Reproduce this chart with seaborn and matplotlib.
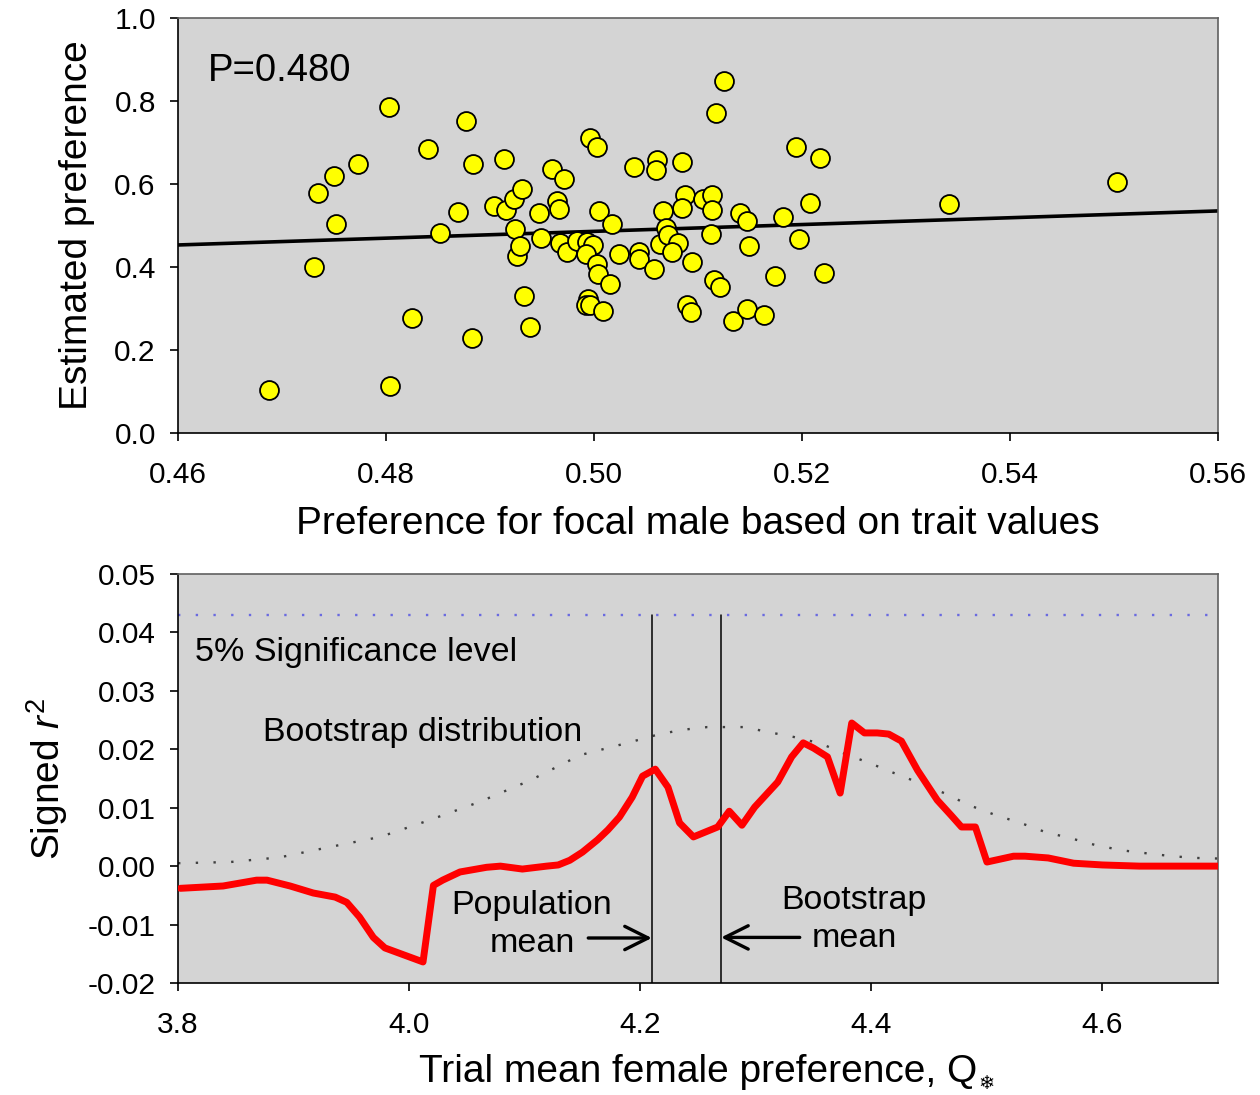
import numpy as np
import pandas as pd
import matplotlib
matplotlib.use("Agg")
import matplotlib.pyplot as plt
import seaborn as sns

# ---- top panel: estimated vs. trait-based preference ----
trait_pref = [0.4687, 0.4731, 0.4735, 0.4750, 0.4752, 0.4773, 0.4803, 0.4804, 0.4825, 0.4840,
              0.4852, 0.4869, 0.4877, 0.4883, 0.4884, 0.4904, 0.4913, 0.4915, 0.4923, 0.4924,
              0.4926, 0.4929, 0.4931, 0.4933, 0.4938, 0.4947, 0.4949, 0.4960, 0.4971, 0.4964,
              0.4966, 0.4967, 0.4974, 0.4984, 0.4993, 0.4999, 0.4992, 0.4996, 0.5003, 0.4994,
              0.4992, 0.4996, 0.5009, 0.5005, 0.5003, 0.5004, 0.5015, 0.5017, 0.5024, 0.5038,
              0.5043, 0.5043, 0.5058, 0.5061, 0.5060, 0.5063, 0.5066, 0.5069, 0.5071, 0.5081,
              0.5075, 0.5085, 0.5087, 0.5085, 0.5094, 0.5089, 0.5093, 0.5105, 0.5113, 0.5113,
              0.5112, 0.5115, 0.5121, 0.5117, 0.5125, 0.5134, 0.5140, 0.5147, 0.5149, 0.5147,
              0.5163, 0.5174, 0.5182, 0.5194, 0.5197, 0.5208, 0.5217, 0.5221, 0.5341, 0.5503]
estimated_pref = [0.104, 0.400, 0.578, 0.619, 0.504, 0.648, 0.786, 0.113, 0.277, 0.684,
                  0.482, 0.533, 0.752, 0.229, 0.648, 0.547, 0.660, 0.537, 0.564, 0.492,
                  0.427, 0.451, 0.588, 0.330, 0.255, 0.530, 0.470, 0.636, 0.612, 0.559,
                  0.540, 0.458, 0.436, 0.463, 0.460, 0.453, 0.431, 0.711, 0.689, 0.323,
                  0.308, 0.308, 0.294, 0.535, 0.407, 0.383, 0.359, 0.504, 0.431, 0.641,
                  0.436, 0.419, 0.395, 0.658, 0.634, 0.455, 0.535, 0.494, 0.477, 0.458,
                  0.436, 0.653, 0.573, 0.542, 0.412, 0.308, 0.292, 0.564, 0.573, 0.537,
                  0.480, 0.369, 0.352, 0.771, 0.848, 0.270, 0.530, 0.511, 0.451, 0.299,
                  0.284, 0.378, 0.520, 0.689, 0.467, 0.554, 0.663, 0.386, 0.552, 0.605]
fit_x = [0.46, 0.56]
fit_y = [0.453, 0.535]
p_label = "P=0.480"

# ---- bottom panel: signed r^2 across trial mean preference ----
trial_mean = [3.802, 3.839, 3.868, 3.877, 3.897, 3.917, 3.936, 3.946, 3.957, 3.969,
              3.979, 4.012, 4.021, 4.029, 4.044, 4.067, 4.079, 4.098, 4.119, 4.129,
              4.139, 4.150, 4.163, 4.172, 4.182, 4.193, 4.202, 4.213, 4.224, 4.234,
              4.246, 4.267, 4.277, 4.288, 4.299, 4.319, 4.331, 4.341, 4.350, 4.362,
              4.373, 4.383, 4.394, 4.405, 4.415, 4.426, 4.440, 4.457, 4.469, 4.478,
              4.490, 4.500, 4.523, 4.533, 4.553, 4.575, 4.600, 4.632, 4.664, 4.700]
signed_r2 = [-0.0038, -0.0034, -0.0024, -0.0024, -0.0034, -0.0046, -0.0053, -0.0062, -0.0087, -0.0122,
             -0.0140, -0.0164, -0.0033, -0.0024, -0.0010, -0.0002, 0.0000, -0.0005, 0.0000, 0.0002,
             0.0010, 0.0024, 0.0045, 0.0062, 0.0084, 0.0118, 0.0154, 0.0166, 0.0135, 0.0074,
             0.0050, 0.0067, 0.0094, 0.0070, 0.0101, 0.0144, 0.0187, 0.0211, 0.0202, 0.0187,
             0.0125, 0.0245, 0.0228, 0.0228, 0.0226, 0.0214, 0.0164, 0.0113, 0.0087, 0.0067,
             0.0067, 0.0007, 0.0017, 0.0017, 0.0014, 0.0005, 0.0002, 0.0000, 0.0000, 0.0000]

boot_x = [3.800, 3.845, 3.888, 3.932, 3.975, 4.018, 4.061, 4.105, 4.148, 4.191,
          4.213, 4.235, 4.258, 4.269, 4.290, 4.312, 4.333, 4.356, 4.376, 4.399,
          4.420, 4.442, 4.463, 4.485, 4.508, 4.529, 4.551, 4.572, 4.594, 4.617,
          4.638, 4.660, 4.681, 4.700]
boot_y = [0.0005, 0.0007, 0.0015, 0.0033, 0.0050, 0.0079, 0.0110, 0.0147, 0.0190, 0.0212,
          0.0224, 0.0233, 0.0238, 0.0238, 0.0238, 0.0229, 0.0221, 0.0210, 0.0193, 0.0176,
          0.0159, 0.0142, 0.0125, 0.0104, 0.0087, 0.0074, 0.0058, 0.0048, 0.0036, 0.0027,
          0.0022, 0.0017, 0.0014, 0.0013]

sig_x = [3.8, 4.7]
sig_y = [0.043, 0.043]
population_mean = 4.210
bootstrap_mean = 4.270

# ---- style ----
sns.set_theme(style="ticks")
plt.rcParams["font.family"] = ["Liberation Sans", "DejaVu Sans"]
plt.rcParams["mathtext.fontset"] = "custom"
plt.rcParams["mathtext.rm"] = "Liberation Sans"
plt.rcParams["mathtext.it"] = "Liberation Sans:italic"
plt.rcParams["axes.unicode_minus"] = False
plt.rcParams["text.color"] = "black"
plt.rcParams["axes.labelcolor"] = "black"
plt.rcParams["xtick.color"] = "black"
plt.rcParams["ytick.color"] = "black"

bg = "#d4d4d4"
fig = plt.figure(figsize=(12.6, 10.95), dpi=100)
ax1 = fig.add_axes([0.1413, 0.6046, 0.8254, 0.3790])
ax2 = fig.add_axes([0.1413, 0.1023, 0.8254, 0.3735])

for ax in (ax1, ax2):
    ax.set_facecolor(bg)
    for side in ("left", "bottom"):
        ax.spines[side].set_color("black")
        ax.spines[side].set_linewidth(1.2)
    for side in ("top", "right"):
        ax.spines[side].set_visible(True)
        ax.spines[side].set_color("#606060")
        ax.spines[side].set_linewidth(1.2)
    ax.tick_params(axis="both", direction="out", length=6, width=1.2, colors="black",
                   labelsize=21.5, labelcolor="black")
    ax.tick_params(axis="x", pad=14)
    ax.tick_params(axis="y", pad=10)
    ax.grid(False)

# top panel
df_top = pd.DataFrame({"trait": trait_pref, "est": estimated_pref})
sns.scatterplot(data=df_top, x="trait", y="est", ax=ax1, s=185, color="#ffff00",
                edgecolor="black", linewidth=1.3, zorder=3, legend=False)
sns.lineplot(x=fit_x, y=fit_y, ax=ax1, color="black", linewidth=2.6, zorder=2)
ax1.set_xlim(0.46, 0.56)
ax1.set_ylim(0.0, 1.0)
xt1 = [0.46, 0.48, 0.50, 0.52, 0.54, 0.56]
ax1.set_xticks(xt1, [f"{v:.2f}" for v in xt1])
yt1 = [0.0, 0.2, 0.4, 0.6, 0.8, 1.0]
ax1.set_yticks(yt1, [f"{v:.1f}" for v in yt1])
ax1.set_xlabel("Preference for focal male based on trait values", fontsize=28)
ax1.set_ylabel("Estimated preference", fontsize=28)
ax1.xaxis.set_label_coords(0.5, -0.177)
ax1.yaxis.set_label_coords(-0.080, 0.5)
ax1.text(0.4629, 0.872, p_label, fontsize=27.5, ha="left", va="center")

# bottom panel
sns.lineplot(x=sig_x, y=sig_y, ax=ax2, color="#6a6ae0", linewidth=1.7,
             linestyle=(0, (1, 6.5)), zorder=2)
sns.lineplot(x=boot_x, y=boot_y, ax=ax2, color="#404040", linewidth=1.7,
             linestyle=(0, (1, 6.5)), zorder=2, sort=False)
for xm in (population_mean, bootstrap_mean):
    ax2.plot([xm, xm], [-0.02, sig_y[0]], color="black", linewidth=1.1, zorder=3)
sns.lineplot(x=trial_mean, y=signed_r2, ax=ax2, color="#ff0000", linewidth=5.0,
             zorder=4, sort=False)
ax2.set_xlim(3.8, 4.7)
ax2.set_ylim(-0.02, 0.05)
xt2 = [3.8, 4.0, 4.2, 4.4, 4.6]
ax2.set_xticks(xt2, [f"{v:.1f}" for v in xt2])
yt2 = [-0.02, -0.01, 0.00, 0.01, 0.02, 0.03, 0.04, 0.05]
ax2.set_yticks(yt2, [f"{v:.2f}" for v in yt2])
ax2.set_ylabel("Signed $\\mathit{r}^{2}$", fontsize=28)
ax2.yaxis.set_label_coords(-0.104, 0.5)
ax2.set_xlabel("Trial mean female preference, Q", fontsize=28)
ax2.xaxis.set_label_coords(0.5, -0.174)

ax2.text(3.8147, 0.0366, "5% Significance level", fontsize=24.5, ha="left", va="center")
ax2.text(3.8736, 0.0229, "Bootstrap distribution", fontsize=24.5, ha="left", va="center")
ax2.text(4.1063, -0.0100, "Population\nmean", fontsize=24.5, ha="center", va="center",
         linespacing=1.3)
ax2.text(4.385, -0.0091, "Bootstrap\nmean", fontsize=24.5, ha="center", va="center",
         linespacing=1.3)
arrow = dict(arrowstyle="->", color="black", lw=2.4, mutation_scale=42,
             shrinkA=0, shrinkB=0)
ax2.annotate("", xy=(population_mean, -0.0123), xytext=(4.155, -0.0123), arrowprops=arrow)
ax2.annotate("", xy=(bootstrap_mean, -0.0122), xytext=(4.338, -0.0122), arrowprops=arrow)

# small snowflake subscript just after the Q of the axis title
fig.canvas.draw()
bb = ax2.xaxis.label.get_window_extent()
fw, fh = fig.bbox.width, fig.bbox.height
fig.text((bb.x1 + 1) / fw, (bb.y0 - 3) / fh, "\u2744", fontsize=14,
         family=["DejaVu Sans"], ha="left", va="bottom")

fig.savefig("out.png", dpi=100)
